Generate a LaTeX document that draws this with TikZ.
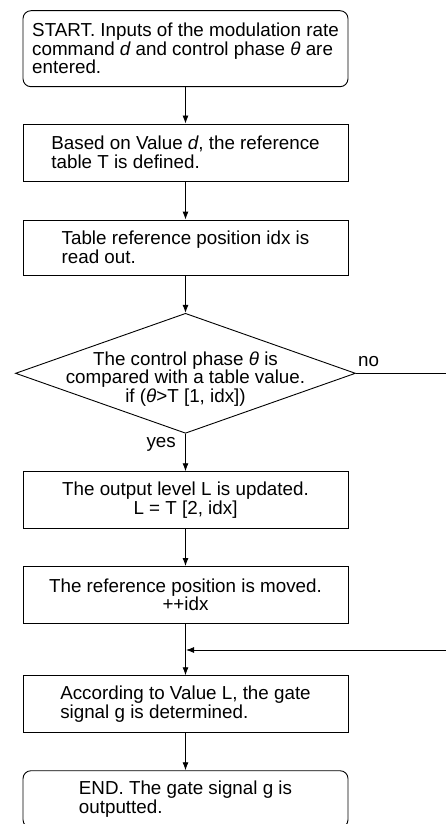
\documentclass[tikz,border=0pt]{standalone}
\usepackage{fontspec}
\setmainfont{Liberation Sans}
\usetikzlibrary{arrows.meta,shapes.geometric}

\tikzset{
  flowtext/.style={font=\fontsize{18.8}{18.5}\selectfont, text=black},
  procbox/.style={draw=black, line width=0.9pt, minimum width=325pt, minimum height=57pt,
    inner sep=0pt, align=left, flowtext},
  termbox/.style={procbox, rounded corners=8pt},
  centerbox/.style={procbox, align=center},
  flow/.style={draw=black, line width=0.9pt, -{Latex[length=8pt,width=6pt]}},
  plain/.style={draw=black, line width=0.9pt}
}

\begin{document}
\begin{tikzpicture}[x=1pt,y=-1pt]
  \useasboundingbox (0,0) rectangle (446,824);

  % main column of steps
  \node[termbox, minimum height=76pt] (start) at (185.5,48.7)
    {START. Inputs of the modulation rate\\command {\itshape d} and control phase {\itshape θ} are\\entered.};
  \node[procbox] (define) at (185.5,152.5)
    {Based on Value {\itshape d}, the reference\\table T is defined.};
  \node[procbox, minimum height=55pt] (readidx) at (185.5,247.5)
    {Table reference position idx is\\read out.};

  % decision
  \node[diamond, draw=black, line width=0.9pt, minimum width=340pt, minimum height=120pt,
    shape aspect=2.83, inner sep=0pt] (dec) at (185.5,373.3) {};
  \node[flowtext, align=center, inner sep=0pt] (dectext) at (185.5,379)
    {The control phase {\itshape θ} is\\compared with a table value.\\if ({\itshape θ}>T [1, idx])};

  \node[centerbox] (update) at (185.5,500.2)
    {The output level L is updated.\\L = T [2, idx]};
  \node[centerbox] (move) at (185.5,595)
    {The reference position is moved.\\++idx};
  \node[procbox] (gate) at (185.5,704.2)
    {According to Value L, the gate\\signal g is determined.};
  \node[termbox] (end) at (185.5,799.2)
    {END. The gate signal g is\\outputted.};

  % branch labels
  \node[flowtext, anchor=base west, inner sep=0pt] (nolbl) at (358,366.7) {no};
  \node[flowtext, anchor=base east, inner sep=0pt] (yeslbl) at (176,447) {yes};

  % connectors
  \coordinate (merge) at (185.5,650);
  \coordinate (rturn) at (462,373.3);
  \coordinate (rback) at (462,650);

  \draw[flow] (start) -- (define);
  \draw[flow] (define) -- (readidx);
  \draw[flow] (readidx) -- (dec.north);
  \draw[flow] (dec.south) -- (update);
  \draw[flow] (update) -- (move);
  \draw[flow] (move) -- (gate);
  \draw[flow] (gate) -- (end);
  \draw[plain] (dec.east) -- (rturn) -- (rback);
  \draw[flow] (rback) -- ([xshift=0.5pt]merge);
\end{tikzpicture}
\end{document}
